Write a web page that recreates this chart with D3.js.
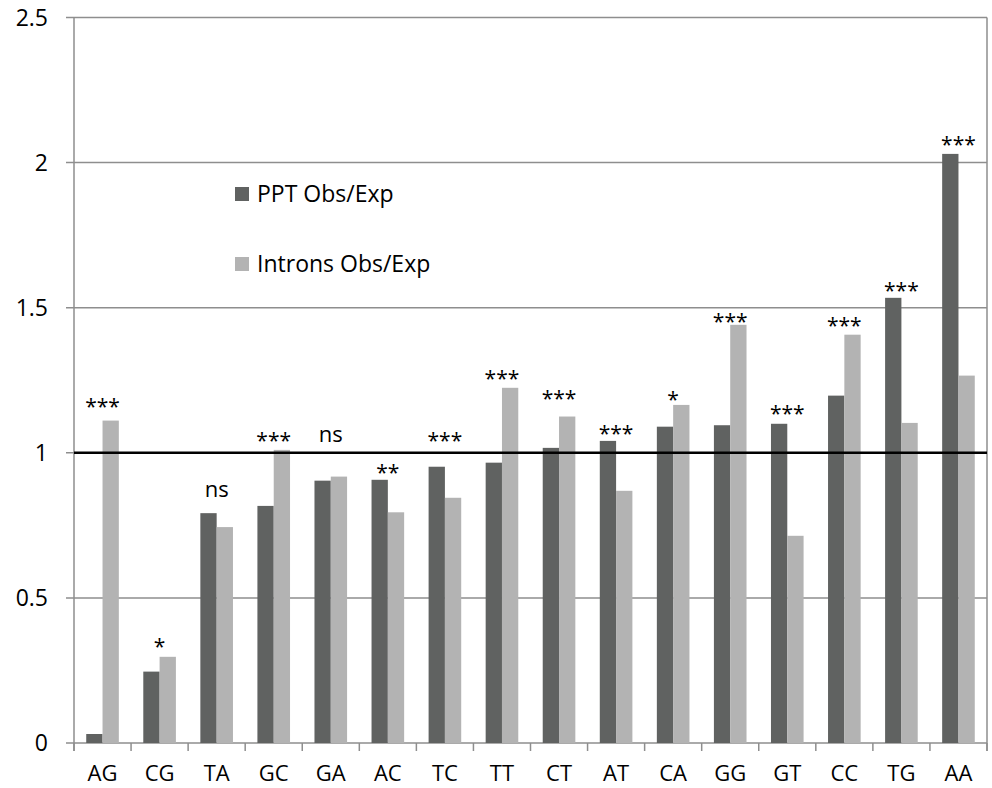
<!DOCTYPE html>
<html>
<head>
<meta charset="utf-8">
<script src="https://cdn.jsdelivr.net/npm/d3@7"></script>
<style>
  body { margin: 0; background: #fff; }
  text { font-family: "Open Sans", sans-serif; fill: #000; }
</style>
</head>
<body>
<svg id="chart"></svg>
<script>
// dinucleotide categories, sorted as in the figure
const categories = ['AG', 'CG', 'TA', 'GC', 'GA', 'AC', 'TC', 'TT', 'CT', 'AT', 'CA', 'GG', 'GT', 'CC', 'TG', 'AA'];
const seriesNames = ['PPT Obs/Exp', 'Introns Obs/Exp'];
const pptValues = [0.031, 0.246, 0.792, 0.817, 0.904, 0.907, 0.952, 0.966, 1.017, 1.041, 1.09, 1.095, 1.10, 1.197, 1.534, 2.03];
const intronValues = [1.111, 0.297, 0.744, 1.01, 0.918, 0.795, 0.845, 1.224, 1.125, 0.869, 1.165, 1.441, 0.714, 1.407, 1.103, 1.266];
// significance marks and the height (in y units) where each one sits
const sigLabels = ['***', '*', 'ns', '***', 'ns', '**', '***', '***', '***', '***', '*', '***', '***', '***', '***', '***'];
const sigY = [1.180, 0.352, 0.870, 1.062, 1.060, 0.951, 1.062, 1.275, 1.206, 1.085, 1.203, 1.470, 1.156, 1.459, 1.580, 2.083];
const yTicks = [0, 0.5, 1, 1.5, 2, 2.5];
const refValue = 1;

const W = 992, H = 788,
  m = { l: 74, r: 5, t: 17.5, b: 45 },
  colors = ['#606261', '#b3b3b3'];

const $svg = d3.select('#chart')
  .attr('width', W)
  .attr('height', H)
  .attr('viewBox', '0 0 ' + W + ' ' + H);

const x = d3.scaleBand()
    .domain(categories)
    .range([m.l, W - m.r])
    .paddingInner(1.5 / 3.5)
    .paddingOuter(0.75 / 3.5),
  xs = d3.scaleBand()
    .domain(seriesNames)
    .range([0, x.bandwidth()]),
  y = d3.scaleLinear()
    .domain([0, 2.5])
    .range([H - m.b, m.t]);

const gridColor = '#8e8e8e';

// gridlines + y tick marks
$svg.append('g').selectAll('line')
  .data(yTicks)
  .enter()
  .append('line')
  .attr('x1', m.l - 8)
  .attr('x2', W - m.r)
  .attr('y1', (d) => y(d))
  .attr('y2', (d) => y(d))
  .attr('stroke', gridColor)
  .attr('stroke-width', 1.5);

// y axis labels
$svg.append('g').selectAll('text')
  .data(yTicks)
  .enter()
  .append('text')
  .attr('x', m.l - 26)
  .attr('y', (d) => y(d))
  .attr('dy', '0.36em')
  .attr('text-anchor', 'end')
  .attr('font-size', 23)
  .text((d) => d3.format('')(d));

// left and right frame lines
$svg.append('line')
  .attr('x1', m.l).attr('x2', m.l)
  .attr('y1', y(2.5)).attr('y2', y(0) + 8)
  .attr('stroke', gridColor).attr('stroke-width', 1.5);
$svg.append('line')
  .attr('x1', W - m.r).attr('x2', W - m.r)
  .attr('y1', y(2.5)).attr('y2', y(0) + 8)
  .attr('stroke', gridColor).attr('stroke-width', 1.5);

// x tick marks on the category boundaries
const boundaries = categories.map((c) => x(c) - x.step() * x.paddingOuter()).concat([W - m.r]);
$svg.append('g').selectAll('line')
  .data(boundaries)
  .enter()
  .append('line')
  .attr('x1', (d) => d).attr('x2', (d) => d)
  .attr('y1', y(0)).attr('y2', y(0) + 8)
  .attr('stroke', gridColor).attr('stroke-width', 1.5);

// x labels
$svg.append('g').selectAll('text')
  .data(categories)
  .enter()
  .append('text')
  .attr('x', (d) => x(d) + x.bandwidth() / 2)
  .attr('y', H - 7)
  .attr('text-anchor', 'middle')
  .attr('font-size', 22)
  .text((d) => d);

// bars
const rows = categories.map((c, i) => ({ cat: c, vals: [pptValues[i], intronValues[i]] }));
const groups = $svg.selectAll('g.cat')
  .data(rows)
  .enter()
  .append('g')
  .attr('class', 'cat')
  .attr('transform', (d) => 'translate(' + x(d.cat) + ',0)');

groups.selectAll('rect')
  .data((d) => d.vals.map((v, j) => ({ s: seriesNames[j], v: v, j: j })))
  .enter()
  .append('rect')
  .attr('x', (d) => xs(d.s))
  .attr('width', xs.bandwidth())
  .attr('y', (d) => y(d.v))
  .attr('height', (d) => y(0) - y(d.v))
  .attr('fill', (d) => colors[d.j]);

// reference line at 1
$svg.append('line')
  .attr('x1', m.l).attr('x2', W - m.r)
  .attr('y1', y(refValue)).attr('y2', y(refValue))
  .attr('stroke', '#000').attr('stroke-width', 2.5);

// significance labels
$svg.append('g').selectAll('text')
  .data(sigLabels)
  .enter()
  .append('text')
  .attr('x', (d, i) => x(categories[i]) + x.bandwidth() / 2)
  .attr('y', (d, i) => y(sigY[i]))
  .attr('dy', (d) => d[0] == '*' ? '0.62em' : '0.3em')
  .attr('text-anchor', 'middle')
  .attr('font-size', (d) => d[0] == '*' ? 21 : 22)
  .attr('fill', (d) => d[0] == '*' ? '#333' : '#000')
  .text((d) => d);

// legend
const legend = $svg.append('g').selectAll('g')
  .data(seriesNames)
  .enter()
  .append('g')
  .attr('transform', (d, i) => 'translate(235,' + (187 + i * 70) + ')');
legend.append('rect')
  .attr('width', 14)
  .attr('height', 14)
  .attr('fill', (d, i) => colors[i]);
legend.append('text')
  .attr('x', 22)
  .attr('y', 7)
  .attr('dy', '0.36em')
  .attr('font-size', 23)
  .text((d) => d);
</script>
</body>
</html>
